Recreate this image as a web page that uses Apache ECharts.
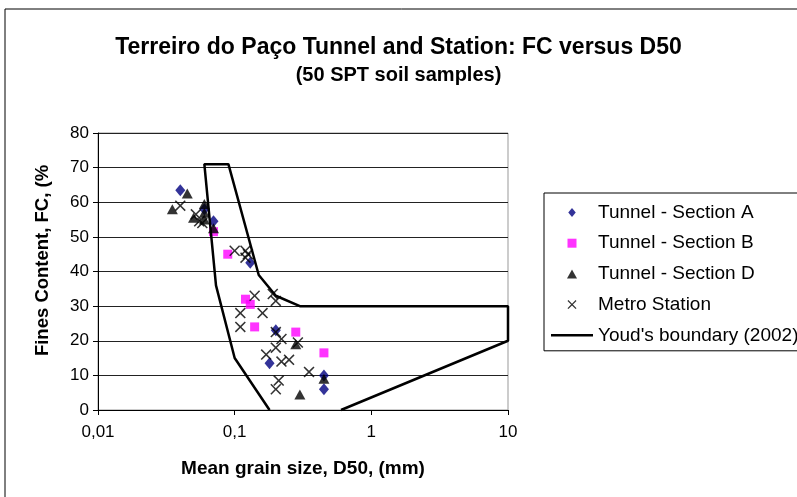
<!DOCTYPE html>
<html>
<head>
<meta charset="utf-8">
<script src="https://cdn.jsdelivr.net/npm/echarts@6/dist/echarts.min.js"></script>
<style>
  html, body { margin: 0; padding: 0; background: #fff; }
  #chart { width: 797px; height: 497px; }
</style>
</head>
<body>
<div id="chart"></div>
<script>
// D50 (mm), FC (%)
var sectionA = [[0.04, 63.5], [0.06, 58], [0.07, 54.5], [0.13, 42.5], [0.2, 23], [0.18, 13.5], [0.45, 10], [0.45, 6]];
var sectionB = [[0.07, 51.5], [0.089, 45], [0.12, 32], [0.13, 30.5], [0.14, 24], [0.28, 22.5], [0.45, 16.5]];
var sectionD = [[0.045, 62.5], [0.035, 58], [0.05, 55.5], [0.06, 59.5], [0.06, 57], [0.06, 55], [0.07, 52.5], [0.28, 19], [0.45, 9], [0.3, 4.5]];
var metro = [[0.04, 59], [0.052, 56.5], [0.055, 54.5], [0.058, 54], [0.1, 46], [0.12, 46], [0.125, 45], [0.12, 44],
  [0.14, 33], [0.19, 33.5], [0.2, 31.5], [0.11, 28], [0.16, 28], [0.11, 24], [0.2, 22.5], [0.22, 20.5], [0.29, 19.5],
  [0.2, 18], [0.17, 16], [0.22, 14], [0.25, 14.5], [0.35, 11], [0.21, 8.5], [0.2, 6]];
var youd = [[0.18, 0], [0.1, 15], [0.073, 36], [0.06, 71], [0.09, 71], [0.15, 39], [0.2, 33], [0.3, 30], [10, 30], [10, 20], [0.6, 0]];

var xMin = 0.01, xMax = 10;
var yMin = 0, yMax = 80, yStep = 10;

var font = 'Liberation Sans, Arial, sans-serif';
var diamondPath = 'path://M5,0L10,6L5,12L0,6Z';
var squarePath = 'path://M0,0L10,0L10,10L0,10Z';
var trianglePath = 'path://M5,0L10,9L0,9Z';
var crossPath = 'path://M0,1L1,0L5,4L9,0L10,1L6,5L10,9L9,10L5,6L1,10L0,9L4,5Z';
var linePath = 'path://M0,0L42,0L42,2.5L0,2.5Z';

var chart = echarts.init(document.getElementById('chart'));
chart.setOption({
  animation: false,
  textStyle: { fontFamily: font },
  title: {
    text: 'Terreiro do Paço Tunnel and Station: FC versus D50',
    subtext: '(50 SPT soil samples)',
    left: 'center',
    top: 31,
    itemGap: 6,
    textStyle: { fontSize: 23, fontWeight: 'bold', color: '#000', fontFamily: font },
    subtextStyle: { fontSize: 20, fontWeight: 'bold', color: '#000', fontFamily: font },
  },
  graphic: [
    {
      type: 'rect',
      shape: { x: 5, y: 9, width: 820, height: 520 },
      style: { fill: 'none', stroke: '#000', lineWidth: 1 },
      silent: true,
      z: -1,
    },
  ],
  legend: {
    orient: 'vertical',
    left: 544,
    top: 193,
    padding: [10, 30, 6, 7],
    itemWidth: 42,
    itemHeight: 9,
    itemGap: 11.7,
    symbolKeepAspect: true,
    borderColor: '#000',
    borderWidth: 1,
    textStyle: { fontSize: 19, color: '#000', lineHeight: 18, fontFamily: font },
    data: [
      { name: 'Tunnel - Section A', icon: diamondPath },
      { name: 'Tunnel - Section B', icon: squarePath },
      { name: 'Tunnel - Section D', icon: trianglePath },
      { name: 'Metro Station', icon: crossPath },
      { name: "Youd's boundary (2002)", icon: linePath },
    ],
  },
  grid: {
    left: 98,
    right: 289,
    top: 133,
    bottom: 87,
    show: true,
    borderColor: '#999',
    borderWidth: 1,
  },
  xAxis: {
    type: 'log',
    logBase: 10,
    min: xMin,
    max: xMax,
    name: 'Mean grain size, D50, (mm)',
    nameLocation: 'middle',
    nameGap: 49,
    nameTextStyle: { fontSize: 19, fontWeight: 'bold', color: '#000', fontFamily: font },
    axisLine: { lineStyle: { color: '#000' } },
    axisTick: { show: true, length: 5, lineStyle: { color: '#000' } },
    axisLabel: {
      fontSize: 17,
      color: '#000',
      margin: 14,
      formatter: function (v) {
        return String(v).replace('.', ',');
      },
    },
    splitLine: { show: false },
    minorTick: { show: false },
  },
  yAxis: {
    type: 'value',
    min: yMin,
    max: yMax,
    interval: yStep,
    name: 'Fines Content, FC, (%',
    nameLocation: 'middle',
    nameGap: 46,
    nameRotate: 90,
    nameTextStyle: { fontSize: 18.5, fontWeight: 'bold', color: '#000', fontFamily: font, padding: [0, 0, 0, 22] },
    axisLine: { show: true, lineStyle: { color: '#000' } },
    axisTick: { show: true, length: 5, lineStyle: { color: '#000' } },
    axisLabel: { fontSize: 17, color: '#000', margin: 9 },
    splitLine: { show: true, lineStyle: { color: '#222', width: 1 } },
  },
  series: [
    {
      name: 'Tunnel - Section A',
      type: 'scatter',
      symbol: diamondPath,
      symbolSize: [10, 12],
      itemStyle: { color: '#000080' },
      data: sectionA,
    },
    {
      name: 'Tunnel - Section B',
      type: 'scatter',
      symbol: squarePath,
      symbolSize: 9,
      itemStyle: { color: '#ff00ff' },
      data: sectionB,
    },
    {
      name: 'Tunnel - Section D',
      type: 'scatter',
      symbol: trianglePath,
      symbolSize: [11, 10],
      itemStyle: { color: '#000' },
      data: sectionD,
    },
    {
      name: 'Metro Station',
      type: 'scatter',
      symbol: crossPath,
      symbolSize: 11,
      itemStyle: { color: '#000' },
      data: metro,
    },
    {
      name: "Youd's boundary (2002)",
      type: 'line',
      symbol: 'none',
      clip: false,
      lineStyle: { color: '#000', width: 2.5 },
      itemStyle: { color: '#000' },
      data: youd,
      z: 3,
    },
  ],
});
</script>
</body>
</html>
